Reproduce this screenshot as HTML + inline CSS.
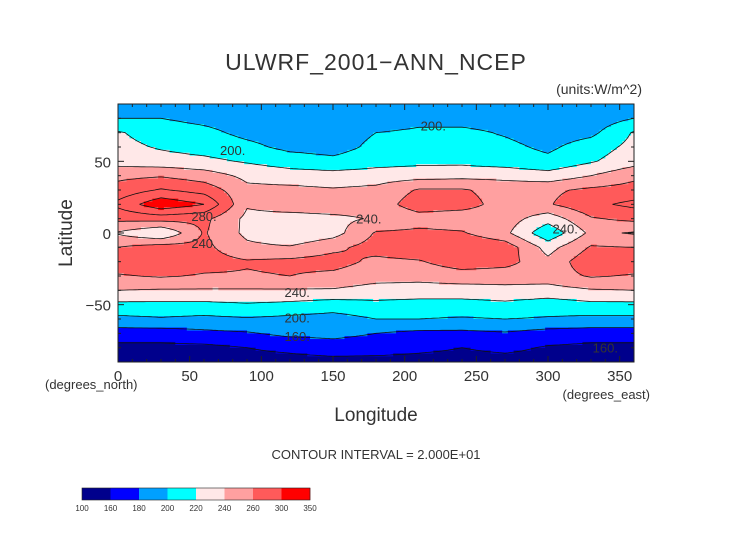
<!DOCTYPE html>
<html><head><meta charset="utf-8"><style>
body{margin:0;background:#fff;width:752px;height:532px;overflow:hidden}
svg text{font-family:"Liberation Sans",sans-serif;fill:#333;stroke:none}
</style></head><body>
<svg id="s" width="752" height="532" viewBox="0 0 752 532">
<text x="376" y="70" text-anchor="middle" font-size="23" style="letter-spacing:1px">ULWRF_2001−ANN_NCEP</text>
<text x="642" y="94" text-anchor="end" font-size="14">(units:W/m^2)</text>
<g id="map"></g>
<g id="lines"></g>
<g id="axes"></g>
<text x="376" y="421" text-anchor="middle" font-size="19">Longitude</text>
<text transform="translate(72,233) rotate(-90)" text-anchor="middle" font-size="19">Latitude</text>
<text x="45" y="389" font-size="13">(degrees_north)</text>
<text x="650" y="399" text-anchor="end" font-size="13">(degrees_east)</text>
<text x="376" y="459" text-anchor="middle" font-size="13">CONTOUR INTERVAL = 2.000E+01</text>
<g id="cbar"></g>
</svg>
<script>
const lons=[0,30,60,90,120,150,180,210,240,270,300,330,360];
const lats=[90,80,70,60,50,40,30,20,10,0,-10,-20,-30,-40,-50,-60,-70,-80,-90];
const grid=[
[192,192,192,190,188,188,188,188,188,188,186,186,192],
[200,200,195,190,188,188,190,195,192,190,188,188,200],
[222,210,205,195,190,190,200,203,205,198,190,195,222],
[226,218,212,205,195,192,205,210,208,205,196,210,226],
[232,228,225,218,210,205,212,215,215,210,205,218,232],
[255,258,250,235,230,228,230,232,234,234,228,240,255],
[268,282,272,245,245,242,245,262,262,252,256,264,268],
[285,315,300,242,250,252,248,272,268,252,258,275,285],
[265,268,265,235,232,235,242,250,248,250,228,258,265],
[238,220,262,235,222,232,262,265,262,245,205,245,238],
[260,270,265,245,242,255,268,275,278,272,232,262,260],
[272,275,268,262,265,268,255,258,272,268,245,275,272],
[258,262,258,258,260,255,248,246,250,248,250,262,258],
[240,238,238,238,238,238,232,232,232,235,232,238,240],
[215,215,215,218,215,210,215,212,212,215,210,215,215],
[195,198,195,198,195,192,200,200,198,200,198,195,195],
[170,170,175,178,185,185,180,175,175,178,172,170,170],
[155,155,155,160,165,172,170,165,160,165,158,155,155],
[152,152,152,152,152,152,152,152,152,152,152,152,152]];
const levels=[100,160,180,200,220,240,260,300,350];
const colors=["#00008c","#0000ff","#00a0ff","#00ffff","#ffe8e8","#ffa0a0","#ff5a5a","#ff0000"];
const cLevels=[160,180,200,220,240,260,280,300];
const xTicks=[0,50,100,150,200,250,300,350];
const yTicks=[50,0,-50];
const X0=118,X1=634,YT=104,YB=362;
const xs=l=>X0+l*(X1-X0)/360;
const ys=a=>YB-(a+90)*(YB-YT)/180;
const NS="http://www.w3.org/2000/svg";
function el(t,a,p){const e=document.createElementNS(NS,t);for(const k in a)e.setAttribute(k,a[k]);p.appendChild(e);return e;}
function val(lo,la){
 let i=Math.min(lons.length-2,Math.floor(lo/30)),fx=(lo-lons[i])/30;
 let j=Math.min(lats.length-2,Math.floor((90-la)/10)),fy=(lats[j]-la)/10;
 const a=grid[j][i],b=grid[j][i+1],c=grid[j+1][i],d=grid[j+1][i+1];
 return a*(1-fx)*(1-fy)+b*fx*(1-fy)+c*(1-fx)*fy+d*fx*fy;}
function ci(v){for(let k=levels.length-2;k>=0;k--)if(v>=levels[k])return k;return 0;}
const map=document.getElementById('map');
const D=2;
for(let la=90;la>-90;la-=D){
 let start=0,cur=ci(val(D/2,la-D/2));
 for(let lo=D;lo<=360;lo+=D){
  const c=lo<360?ci(val(lo+D/2,la-D/2)):-1;
  if(c!==cur){
   const r=el('rect',{x:xs(start).toFixed(2),y:ys(la).toFixed(2),width:(xs(lo)-xs(start)+0.4).toFixed(2),height:(ys(la-D)-ys(la)+0.4).toFixed(2),fill:colors[cur]},map);
   
   
   start=lo;cur=c;}
 }
}
const lg=document.getElementById('lines');
let dstr="";
for(let la=90;la>-90;la-=D){for(let lo=0;lo<360;lo+=D){
 const p=[[lo,la],[lo+D,la],[lo+D,la-D],[lo,la-D]];
 const v=p.map(q=>val(q[0],q[1]));
 for(const L of cLevels){
  const pts=[];
  for(let e=0;e<4;e++){const a=v[e],b=v[(e+1)%4];
   if((a<L)!==(b<L)){const t=(L-a)/(b-a);const A=p[e],B=p[(e+1)%4];
    pts.push([xs(A[0]+(B[0]-A[0])*t),ys(A[1]+(B[1]-A[1])*t)]);}}
  for(let k=0;k+1<pts.length;k+=2)dstr+="M"+pts[k][0].toFixed(1)+" "+pts[k][1].toFixed(1)+"L"+pts[k+1][0].toFixed(1)+" "+pts[k+1][1].toFixed(1);
 }}}
const cl=el('path',{d:dstr,fill:'none',stroke:'#111','stroke-width':0.8},lg);


const labs=[[80,58,"200."],[220,75,"200."],[60,12,"280."],[175,10,"240."],[60,-7,"240."],[125,-41,"240."],[125,-59,"200."],[125,-72,"160."],[312,3,"240."],[340,-80,"160."]];
for(const q of labs){const t=el('text',{x:xs(q[0]),y:ys(q[1])+5,'font-size':13,'text-anchor':'middle'},lg);t.textContent=q[2];
 }
const ax=document.getElementById('axes');
const fr=el('rect',{x:X0,y:YT,width:X1-X0,height:YB-YT,fill:'none',stroke:'#222','stroke-width':1},ax);

for(let l=0;l<=360;l+=10){const m=l%50===0;const x=xs(l);
 el('line',{x1:x,x2:x,y1:YB,y2:YB-(m?6:3),stroke:'#222'},ax);el('line',{x1:x,x2:x,y1:YT,y2:YT+(m?6:3),stroke:'#222'},ax);}
for(let a=-90;a<=90;a+=10){const m=a%50===0;const y=ys(a);
 el('line',{x1:X0,x2:X0+(m?6:3),y1:y,y2:y,stroke:'#222'},ax);el('line',{x1:X1,x2:X1-(m?6:3),y1:y,y2:y,stroke:'#222'},ax);}
for(const l of xTicks){const t=el('text',{x:xs(l),y:381,'text-anchor':'middle','font-size':15},ax);t.textContent=l;
 }
for(const a of yTicks){const t=el('text',{x:111,y:ys(a)+6,'text-anchor':'end','font-size':15},ax);t.textContent=a<0?"−"+(-a):a;
 }
const cb=document.getElementById('cbar');const bw=228/colors.length;
colors.forEach((c,i)=>{const r=el('rect',{x:82+i*bw,y:488,width:bw+0.3,height:12,fill:c},cb);
 });
el('rect',{x:82,y:488,width:228,height:12,fill:'none',stroke:'#222','stroke-width':0.6},cb);
levels.forEach((l,i)=>{const t=el('text',{x:82+i*bw,y:511,'text-anchor':'middle','font-size':8},cb);t.textContent=l;
 });
</script>
</body></html>
